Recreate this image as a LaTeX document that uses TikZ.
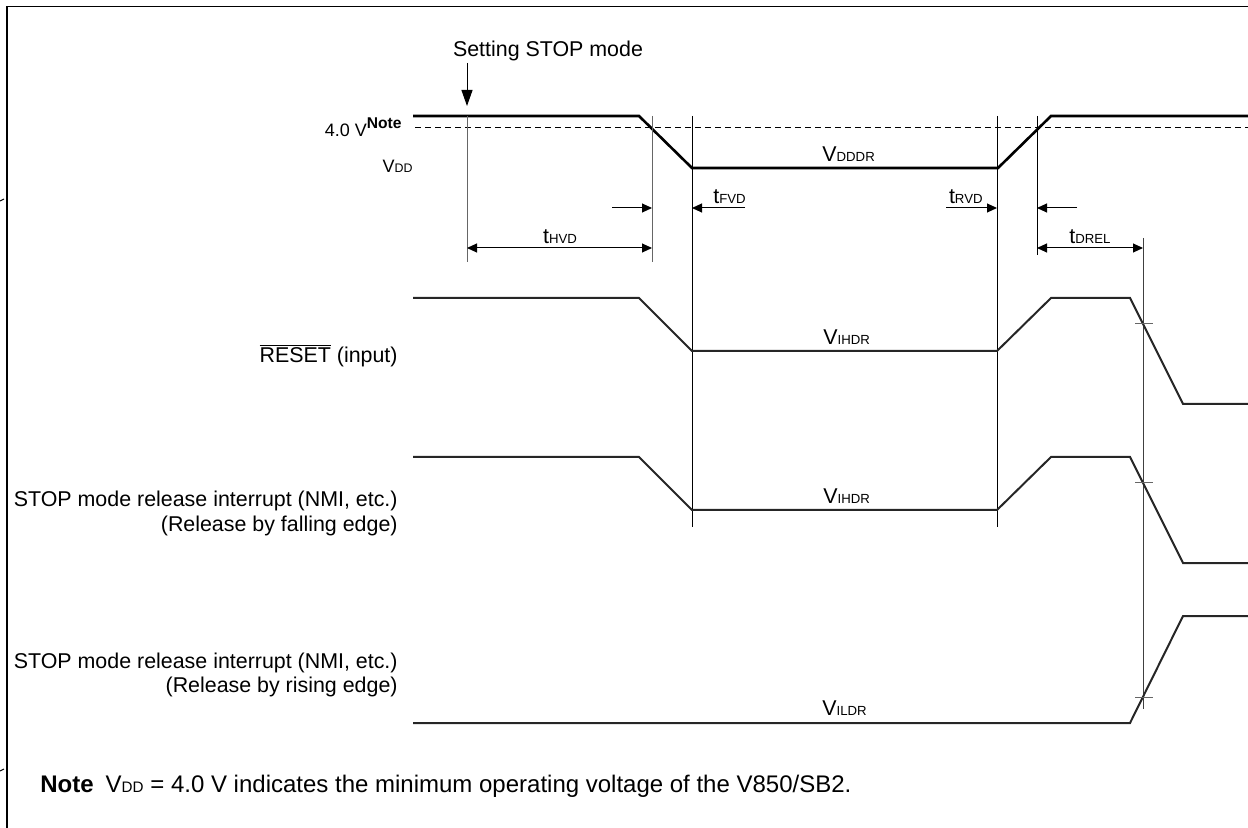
\documentclass[tikz,border=0pt]{standalone}
\usepackage{fontspec}
\setmainfont{Liberation Sans}
\usetikzlibrary{arrows.meta}

\newcommand{\sigsub}[2]{#1{\fontsize{6.6}{8}\selectfont #2}}

\tikzset{
  lbl/.style={inner sep=0pt, font=\fontsize{10.7}{13}\selectfont},
  vddwave/.style={line width=1.3pt, line join=miter},
  wave/.style={line width=1pt, draw=black!85},
  guide/.style={line width=0.5pt, draw=black!60},
  marker/.style={line width=0.5pt},
  dim/.style={line width=0.5pt, {Triangle[length=5pt,width=4.5pt]}-{Triangle[length=5pt,width=4.5pt]}},
  dimin/.style={line width=0.5pt, -{Triangle[length=5pt,width=4.5pt]}},
}

\begin{document}
\begin{tikzpicture}[x=0.5pt,y=-0.5pt]
  \useasboundingbox (0,0) rectangle (1248,828);

  % frame
  \draw[line width=0.9pt] (7,828) -- (7,6.5) -- (1248,6.5);
  \draw[line width=0.5pt] (0,201) -- (4,199);
  \draw[line width=0.5pt] (0,771) -- (4,769);

  % V_DD
  \draw[line width=0.5pt, dash pattern=on 3pt off 2pt] (415,128) -- (1248,128);
  \draw[vddwave] (413,116) -- (639,116) -- (692,168) -- (998,168) -- (1051,116) -- (1248,116);

  % guide lines
  \coordinate (setstop) at (467,63);
  \draw[line width=0.5pt, -{Triangle[length=8pt,width=5.5pt]}] (setstop) -- (467,106);
  \draw[guide] (467,116) -- (467,262);
  \draw[guide] (652,116) -- (652,262);
  \draw[marker] (692,116) -- (692,527);
  \draw[marker] (997,116) -- (997,527);
  \draw[marker] (1037,116) -- (1037,255);
  \draw[guide, draw=black!75] (1143,238) -- (1143,709);

  % RESET and interrupts
  \draw[wave] (413,298) -- (639,298) -- (692,351) -- (997,351) -- (1051,298) -- (1130,298) -- (1183,404) -- (1248,404);
  \draw[wave] (413,457) -- (639,457) -- (692,510) -- (997,510) -- (1051,457) -- (1130,457) -- (1183,563) -- (1248,563);
  \draw[wave] (413,723) -- (1130,723) -- (1183,616) -- (1248,616);
  \foreach \y in {324,483,697}
    \draw[guide] (1135,\y) -- (1153,\y);

  % timing arrows
  \coordinate (hvdA) at (467,248);
  \coordinate (hvdB) at (652,248);
  \coordinate (drelA) at (1037,248);
  \coordinate (drelB) at (1143,248);
  \draw[dim] (hvdA) -- (hvdB);
  \draw[dim] (drelA) -- (drelB);
  \draw[dimin] (612,208) -- (652,208);
  \draw[dimin] (745,208) -- (692,208);
  \draw[dimin] (946,208) -- (997,208);
  \draw[dimin] (1077,208) -- (1037,208);

  \node[lbl, anchor=base] (thvd) at (560,244) {\sigsub{t}{HVD}};
  \node[lbl, anchor=base west] (tfvd) at (713,204) {\sigsub{t}{FVD}};
  \node[lbl, anchor=base east] (trvd) at (983,204) {\sigsub{t}{RVD}};
  \node[lbl, anchor=base] (tdrel) at (1090,244) {\sigsub{t}{DREL}};

  % levels
  \node[lbl, anchor=base west] (vdddr) at (822,162) {\sigsub{V}{DDDR}};
  \node[lbl, anchor=base west] (vihdr1) at (823,345) {\sigsub{V}{IHDR}};
  \node[lbl, anchor=base west] (vihdr2) at (823,503) {\sigsub{V}{IHDR}};
  \node[lbl, anchor=base west] (vildr) at (822,715) {\sigsub{V}{ILDR}};

  % signal names
  \node[lbl, anchor=base] (stoplbl) at (548,57) {Setting STOP mode};
  \node[lbl, anchor=base east] (fourv) at (402,137) {\fontsize{9}{11}\selectfont 4.0 V\raisebox{4pt}{\fontsize{7.8}{9}\selectfont\bfseries Note}};
  \node[lbl, anchor=base east] (vddlbl) at (413,173) {\fontsize{9}{11}\selectfont V{\fontsize{6.2}{8}\selectfont DD}};
  \node[lbl, anchor=base east] (resetlbl) at (398,363) {$\overline{\mbox{RESET}}$ (input)};
  \node[lbl, anchor=base east] (fall1) at (398,507) {STOP mode release interrupt (NMI, etc.)};
  \node[lbl, anchor=base east] (fall2) at (398,531) {(Release by falling edge)};
  \node[lbl, anchor=base east] (rise1) at (398,668) {STOP mode release interrupt (NMI, etc.)};
  \node[lbl, anchor=base east] (rise2) at (398,692) {(Release by rising edge)};

  \node[lbl, anchor=base west, font=\fontsize{12}{14}\selectfont] (note) at (40,792)
    {\textbf{Note}\hspace{6pt}V{\fontsize{7.6}{9}\selectfont DD} = 4.0 V indicates the minimum operating voltage of the V850/SB2.};
\end{tikzpicture}
\end{document}
